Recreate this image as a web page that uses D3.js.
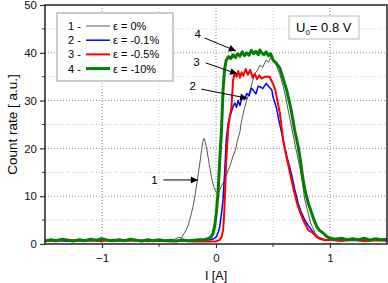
<!DOCTYPE html>
<html>
<head>
<meta charset="utf-8">
<script src="https://cdn.jsdelivr.net/npm/d3@7"></script>
<style>
body { margin: 0; background: #fff; }
text { font-family: Arial, "Liberation Sans", sans-serif; }
</style>
</head>
<body>
<svg id="chart" width="388" height="283"></svg>
<script>
// series: [I, count rate]
var curve1 = [[-1.5,0.7],[-1.4,0.8],[-1.3,0.6],[-1.2,0.9],[-1.1,0.7],[-1.0,0.8],[-0.9,0.6],[-0.8,0.8],[-0.7,0.7],[-0.6,0.9],[-0.5,0.7],[-0.45,0.8],[-0.4,0.9],[-0.36,1.0],[-0.33,1.4],[-0.3,1.3],[-0.28,2.2],[-0.26,3.0],[-0.24,4.2],[-0.22,6.0],[-0.2,8.0],[-0.18,10.7],[-0.16,14.0],[-0.14,17.2],[-0.126,19.7],[-0.115,21.5],[-0.105,22.1],[-0.095,21.4],[-0.08,19.7],[-0.06,16.8],[-0.04,14.0],[-0.02,12.0],[0,10.9],[0.015,10.6],[0.03,11.2],[0.05,12.2],[0.077,13.4],[0.1,15.0],[0.125,16.5],[0.147,18.2],[0.17,19.6],[0.19,21.8],[0.21,23.5],[0.22,25.2],[0.245,28],[0.27,30.1],[0.3,32.2],[0.32,34],[0.34,35.7],[0.36,36.2],[0.385,37.4],[0.41,37.0],[0.44,38.5],[0.46,38.0],[0.49,39.5],[0.51,38.5],[0.53,37.4],[0.56,35.5],[0.6,32],[0.65,26],[0.7,20],[0.74,15.5],[0.78,9.2],[0.83,4.4],[0.87,2.3],[0.9,1.5],[0.95,1.0],[1.0,0.9],[1.1,0.8],[1.2,0.9],[1.3,0.7],[1.4,0.8],[1.5,0.9]];

var curve2 = [[-1.5,0.7],[-1.4,0.8],[-1.3,0.6],[-1.2,0.8],[-1.1,0.7],[-1.0,0.9],[-0.9,0.6],[-0.8,0.8],[-0.7,0.7],[-0.6,0.8],[-0.5,0.6],[-0.4,0.7],[-0.3,0.8],[-0.2,0.6],[-0.1,0.8],[-0.05,0.9],[-0.02,1.1],[0.003,1.5],[0.02,2.5],[0.033,3.6],[0.048,6.4],[0.062,9.2],[0.077,15.5],[0.09,21.8],[0.106,25.2],[0.12,26.5],[0.136,27.7],[0.15,28.8],[0.165,29.5],[0.18,28.6],[0.195,30.0],[0.21,29.0],[0.23,30.8],[0.25,30.2],[0.27,31.5],[0.29,31.0],[0.31,32.6],[0.326,32.2],[0.35,31.4],[0.37,33.0],[0.385,32.9],[0.41,32.5],[0.44,33.6],[0.46,33.0],[0.49,32.2],[0.5,30.8],[0.53,28.5],[0.55,26],[0.59,21.8],[0.62,18.5],[0.66,14.8],[0.69,11.5],[0.72,8.6],[0.75,6.5],[0.78,5.0],[0.81,3.8],[0.84,2.9],[0.87,1.8],[0.9,1.2],[0.95,0.9],[1.0,0.8],[1.1,0.7],[1.2,0.8],[1.3,0.7],[1.4,0.9],[1.5,0.7]];

var curve3 = [[-1.5,0.8],[-1.4,0.6],[-1.3,0.9],[-1.2,0.7],[-1.1,0.8],[-1.0,0.6],[-0.9,0.9],[-0.8,0.7],[-0.7,0.8],[-0.6,0.6],[-0.5,0.8],[-0.4,0.5],[-0.3,0.7],[-0.2,0.5],[-0.1,0.6],[-0.05,0.5],[0,0.6],[0.03,0.8],[0.05,1.5],[0.062,2.9],[0.07,5.5],[0.077,9.2],[0.09,17.6],[0.106,23.8],[0.12,26.5],[0.136,28.7],[0.15,34.3],[0.165,35.8],[0.18,35.0],[0.195,36.2],[0.21,34.8],[0.225,35.9],[0.24,35.2],[0.26,36.6],[0.28,35.4],[0.30,36.4],[0.32,34.8],[0.34,35.6],[0.36,34.5],[0.38,35.3],[0.4,34.6],[0.43,35.0],[0.47,35.0],[0.5,33.5],[0.52,32.2],[0.56,27.4],[0.59,21.5],[0.62,18],[0.65,14.8],[0.68,11.5],[0.71,8.6],[0.74,6.5],[0.765,5.0],[0.79,3.8],[0.81,2.9],[0.85,2.3],[0.88,1.5],[0.92,1.0],[0.96,0.8],[1.0,0.9],[1.1,0.7],[1.2,0.9],[1.3,0.6],[1.4,0.8],[1.5,0.7]];

var curve4 = [[-1.5,0.6],[-1.45,0.9],[-1.4,0.7],[-1.35,1.0],[-1.3,0.8],[-1.25,0.6],[-1.2,0.9],[-1.15,0.7],[-1.1,1.0],[-1.05,0.8],[-1.0,1.1],[-0.95,0.8],[-0.9,0.7],[-0.85,0.9],[-0.8,0.7],[-0.75,1.0],[-0.7,0.8],[-0.65,0.6],[-0.6,0.9],[-0.55,0.7],[-0.5,0.9],[-0.45,0.7],[-0.4,0.8],[-0.35,0.6],[-0.3,0.9],[-0.25,0.7],[-0.2,0.8],[-0.15,0.9],[-0.1,0.9],[-0.06,1.2],[-0.04,1.6],[-0.026,2.2],[-0.01,4.0],[0.003,6.5],[0.018,10.7],[0.033,17.6],[0.048,23.8],[0.062,32.2],[0.075,36.5],[0.09,38.5],[0.11,39.2],[0.13,38.8],[0.15,39.6],[0.17,39.0],[0.19,39.8],[0.21,39.3],[0.23,40.2],[0.25,39.4],[0.27,40.0],[0.29,39.5],[0.31,40.5],[0.33,39.8],[0.35,40.3],[0.37,39.6],[0.385,40.6],[0.4,40.0],[0.42,39.6],[0.44,40.2],[0.46,39.4],[0.48,39.8],[0.5,38.5],[0.53,37.8],[0.56,36.8],[0.59,34.5],[0.62,32.2],[0.66,28],[0.69,23.8],[0.72,20.5],[0.74,17.6],[0.76,14.0],[0.78,11.3],[0.81,8.5],[0.83,7.1],[0.86,5.0],[0.885,3.6],[0.91,2.8],[0.94,2.3],[0.97,1.6],[1.0,1.2],[1.05,1.0],[1.1,1.2],[1.15,0.9],[1.2,1.1],[1.25,0.9],[1.3,1.2],[1.35,0.8],[1.4,1.1],[1.45,0.9],[1.5,1.0]];

var seriesNames = ["1 - ", "2 - ", "3 - ", "4 - "];
var seriesLabels = ["\u03b5 = 0%", "\u03b5 = -0.1%", "\u03b5 = -0.5%", "\u03b5 = -10%"];
var seriesColors = ["#555555", "#0000ff", "#ff0000", "#008000"];
var seriesWidths = [1, 1.5, 2, 3];

var xTicks = [-1, 0, 1];
var yTicks = [0, 10, 20, 30, 40, 50];

// arrows: label, label pos, arrow start, arrow tip (data units)
var arrows = [
    {label: "4", tx: -0.16, ty: 43.9, x0: -0.1, y0: 43.1, x1: 0.174, y1: 40.4},
    {label: "3", tx: -0.172, ty: 38.1, x0: -0.091, y0: 37.9, x1: 0.185, y1: 35.6},
    {label: "2", tx: -0.205, ty: 33.1, x0: -0.129, y0: 32.4, x1: 0.273, y1: 30.5},
    {label: "1", tx: -0.54, ty: 13.4, x0: -0.461, y0: 13.4, x1: -0.159, y1: 13.4}
];

var svg = d3.select("#chart");
var xleft = 45, xright = 387, ytop = 5, ybottom = 244;

var xScale = d3.scaleLinear().domain([-1.5, 1.5]).range([xleft, xright]);
var yScale = d3.scaleLinear().domain([0, 50]).range([ybottom, ytop]);

// grid
var grid = svg.append("g");
grid.selectAll("line.hmin")
    .data([5, 15, 25, 35, 45])
    .enter().append("line")
    .attr("x1", xleft).attr("x2", xright)
    .attr("y1", function(d){return yScale(d);})
    .attr("y2", function(d){return yScale(d);})
    .attr("stroke", "#c8c8c8").attr("stroke-width", 1).attr("stroke-dasharray", "1,2");
grid.selectAll("line.hmaj")
    .data([10, 20, 30, 40])
    .enter().append("line")
    .attr("x1", xleft).attr("x2", xright)
    .attr("y1", function(d){return yScale(d);})
    .attr("y2", function(d){return yScale(d);})
    .attr("stroke", "#888").attr("stroke-width", 1).attr("stroke-dasharray", "1,2");
grid.selectAll("line.vmin")
    .data([-0.5, 0.5])
    .enter().append("line")
    .attr("x1", function(d){return xScale(d);})
    .attr("x2", function(d){return xScale(d);})
    .attr("y1", ytop).attr("y2", ybottom)
    .attr("stroke", "#d0d0d0").attr("stroke-width", 1).attr("stroke-dasharray", "1,2");
grid.selectAll("line.vmaj")
    .data([-1, 0, 1])
    .enter().append("line")
    .attr("x1", function(d){return xScale(d);})
    .attr("x2", function(d){return xScale(d);})
    .attr("y1", ytop).attr("y2", ybottom)
    .attr("stroke", "#888").attr("stroke-width", 1).attr("stroke-dasharray", "1,2");

// curves
var lineFunction = d3.line()
    .x(function(d){return xScale(d[0]);})
    .y(function(d){return yScale(d[1]);});

var allCurves = [curve1, curve2, curve3, curve4];
svg.append("g").selectAll("path")
    .data(allCurves)
    .enter().append("path")
    .attr("d", function(d){return lineFunction(d);})
    .attr("fill", "none")
    .attr("stroke", function(d,i){return seriesColors[i];})
    .attr("stroke-width", function(d,i){return seriesWidths[i];})
    .attr("stroke-linejoin", "round");

// axes
var xAxis = d3.axisBottom(xScale).tickValues(xTicks).tickSize(4).tickFormat(d3.format("d"));
var yAxis = d3.axisLeft(yScale).tickValues(yTicks).tickSize(5).tickFormat(d3.format("d"));

var gx = svg.append("g").attr("transform", "translate(0," + ybottom + ")").call(xAxis);
var gy = svg.append("g").attr("transform", "translate(" + xleft + ",0)").call(yAxis);
[gx, gy].forEach(function(g){
    g.select(".domain").remove();
    g.selectAll("line").attr("stroke", "#333").attr("stroke-width", 1.2);
    g.selectAll("text").attr("fill", "#111").style("font-size", "11.5px");
});
gx.selectAll("text").attr("dy", "1em").attr("y", 6);
gy.selectAll("text").attr("x", -8);

// minor ticks
svg.append("g").selectAll("line")
    .data([-0.5, 0.5])
    .enter().append("line")
    .attr("x1", function(d){return xScale(d);}).attr("x2", function(d){return xScale(d);})
    .attr("y1", ybottom).attr("y2", ybottom + 3)
    .attr("stroke", "#333");
svg.append("g").selectAll("line")
    .data([5, 15, 25, 35, 45])
    .enter().append("line")
    .attr("x1", xleft - 3).attr("x2", xleft)
    .attr("y1", function(d){return yScale(d);}).attr("y2", function(d){return yScale(d);})
    .attr("stroke", "#333");

// frame
svg.append("rect")
    .attr("x", xleft).attr("y", ytop)
    .attr("width", xright - xleft).attr("height", ybottom - ytop)
    .attr("fill", "none").attr("stroke", "#222").attr("stroke-width", 1.5);

// axis labels
svg.append("text")
    .attr("x", xScale(0)).attr("y", 280)
    .attr("text-anchor", "middle")
    .style("font-size", "12.5px")
    .text("I [A]");
svg.append("text")
    .attr("transform", "translate(17," + ((ytop + ybottom) / 2) + ") rotate(-90)")
    .attr("text-anchor", "middle")
    .style("font-size", "13.5px")
    .text("Count rate [ a.u.]");

// legend
var legend = svg.append("g");
legend.append("rect")
    .attr("x", 57).attr("y", 13).attr("width", 116).attr("height", 68)
    .attr("fill", "#fff").attr("stroke", "#999").attr("stroke-width", 1);
var rows = legend.selectAll("g.row")
    .data(seriesNames)
    .enter().append("g")
    .attr("transform", function(d,i){return "translate(0," + (26 + i * 14.2) + ")";});
rows.append("text")
    .attr("x", 68).attr("y", 4)
    .style("font-size", "11px")
    .text(function(d){return d;});
rows.append("line")
    .attr("x1", 86).attr("x2", 110).attr("y1", 0).attr("y2", 0)
    .attr("stroke", function(d,i){return seriesColors[i];})
    .attr("stroke-width", function(d,i){return seriesWidths[i];});
rows.append("text")
    .attr("x", 113).attr("y", 4)
    .style("font-size", "11px")
    .text(function(d,i){return seriesLabels[i];});

// U0 box
var ubox = svg.append("g");
ubox.append("rect")
    .attr("x", 289).attr("y", 16).attr("width", 70).attr("height", 23)
    .attr("fill", "#fff").attr("stroke", "#bbb");
var ut = ubox.append("text")
    .attr("x", 296).attr("y", 32)
    .style("font-size", "13px");
ut.append("tspan").text("U");
ut.append("tspan").attr("dy", 3).style("font-size", "8px").text("0");
ut.append("tspan").attr("dy", -3).text("= 0.8 V");

// annotation arrows
svg.append("defs").append("marker")
    .attr("id", "arrowhead")
    .attr("viewBox", "0 0 10 10")
    .attr("refX", 10).attr("refY", 5)
    .attr("markerWidth", 9).attr("markerHeight", 7)
    .attr("markerUnits", "userSpaceOnUse")
    .attr("orient", "auto")
    .append("path")
    .attr("d", "M0,0 L10,5 L0,10 z")
    .attr("fill", "#000");

var ann = svg.append("g").selectAll("g")
    .data(arrows)
    .enter().append("g");
ann.append("line")
    .attr("x1", function(d){return xScale(d.x0);})
    .attr("y1", function(d){return yScale(d.y0);})
    .attr("x2", function(d){return xScale(d.x1);})
    .attr("y2", function(d){return yScale(d.y1);})
    .attr("stroke", "#000").attr("stroke-width", 1)
    .attr("marker-end", "url(#arrowhead)");
ann.append("text")
    .attr("x", function(d){return xScale(d.tx);})
    .attr("y", function(d){return yScale(d.ty) + 4;})
    .attr("text-anchor", "middle")
    .style("font-size", "11.5px")
    .text(function(d){return d.label;});
</script>
</body>
</html>
